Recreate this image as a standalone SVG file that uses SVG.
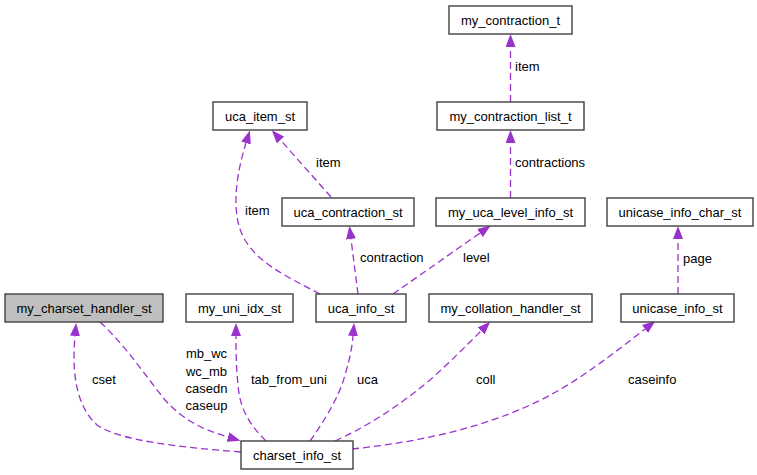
<svg xmlns="http://www.w3.org/2000/svg" width="757" height="475" viewBox="0 0 757 475">
<style>
.n rect{fill:#fff;stroke:#404040;stroke-width:1.4}
.n.g rect{fill:#bfbfbf}
text{font-family:"Liberation Sans",Arial,sans-serif;font-size:13px;fill:#000}
.n text{text-anchor:middle}
.e path{fill:none;stroke:#9a32cd;stroke-width:1.3;stroke-dasharray:7,4;marker-end:url(#ah)}
</style>
<defs>
<marker id="ah" viewBox="0 0 13 10" refX="0" refY="5" markerWidth="13" markerHeight="10" orient="auto" markerUnits="userSpaceOnUse">
<path d="M0,0 L13,5 L0,10 z" fill="#9a32cd"/>
</marker>
</defs>
<rect width="757" height="475" fill="#fff"/>
<g id="edges" class="e">
<path d="M241,452 C175,447 118,440 97,425 C75,405 72,370 75,336"/>
<path d="M100,322 C125,345 145,375 165,400 C185,422 205,430 228,437"/>
<path d="M266,441 C250,425 240,410 238,385 C236,365 236,350 236,336"/>
<path d="M310,441 C325,420 340,395 345,375 C350,358 352,348 353,336"/>
<path d="M335,441 C370,425 400,405 430,380 C450,362 465,347 481,331"/>
<path d="M352,449 C420,442 480,428 530,405 C575,385 615,352 645,329"/>
<path d="M320,294 C290,278 260,265 245,240 C230,215 236,175 246,143"/>
<path d="M331,197 L280.5,140"/>
<path d="M358,294 L351,239"/>
<path d="M393,294 L480,233"/>
<path d="M510.5,198 L510.5,143"/>
<path d="M510.5,102 L510.5,47"/>
<path d="M678,294 L678,239"/>
<g id="edge-labels" font-size="13">
<text x="92" y="384">cset</text>
<text x="206.5" y="358" text-anchor="middle">mb_wc</text>
<text x="206.5" y="375.5" text-anchor="middle">wc_mb</text>
<text x="206.5" y="392.5" text-anchor="middle">casedn</text>
<text x="206.5" y="410" text-anchor="middle">caseup</text>
<text x="251" y="384">tab_from_uni</text>
<text x="357" y="384">uca</text>
<text x="476" y="384">coll</text>
<text x="628" y="384">caseinfo</text>
<text x="245" y="215">item</text>
<text x="316" y="166.5">item</text>
<text x="360" y="262">contraction</text>
<text x="463" y="262">level</text>
<text x="515" y="166.5">contractions</text>
<text x="515" y="71">item</text>
<text x="683" y="263">page</text>
</g>
</g>
<g id="my_contraction_t" class="n"><rect x="449" y="6" width="123" height="28"/><text x="510.5" y="25">my_contraction_t</text></g>
<g id="uca_item_st" class="n"><rect x="213" y="102" width="94" height="28"/><text x="260" y="121">uca_item_st</text></g>
<g id="my_contraction_list_t" class="n"><rect x="437" y="102" width="147" height="28"/><text x="510.5" y="121">my_contraction_list_t</text></g>
<g id="uca_contraction_st" class="n"><rect x="282" y="198" width="132" height="28"/><text x="348" y="217">uca_contraction_st</text></g>
<g id="my_uca_level_info_st" class="n"><rect x="436" y="198" width="149" height="28"/><text x="510.5" y="217">my_uca_level_info_st</text></g>
<g id="unicase_info_char_st" class="n"><rect x="607" y="198" width="146" height="28"/><text x="680" y="217">unicase_info_char_st</text></g>
<g id="my_charset_handler_st" class="n g"><rect x="5" y="294" width="158" height="28"/><text x="84" y="313">my_charset_handler_st</text></g>
<g id="my_uni_idx_st" class="n"><rect x="186" y="294" width="107" height="28"/><text x="239.5" y="313">my_uni_idx_st</text></g>
<g id="uca_info_st" class="n"><rect x="316" y="294" width="90" height="28"/><text x="361" y="313">uca_info_st</text></g>
<g id="my_collation_handler_st" class="n"><rect x="429" y="294" width="163" height="28"/><text x="510.5" y="313">my_collation_handler_st</text></g>
<g id="unicase_info_st" class="n"><rect x="621" y="294" width="113" height="28"/><text x="677.5" y="313">unicase_info_st</text></g>
<g id="charset_info_st" class="n"><rect x="241" y="441" width="112" height="28"/><text x="297" y="460">charset_info_st</text></g>
</svg>
